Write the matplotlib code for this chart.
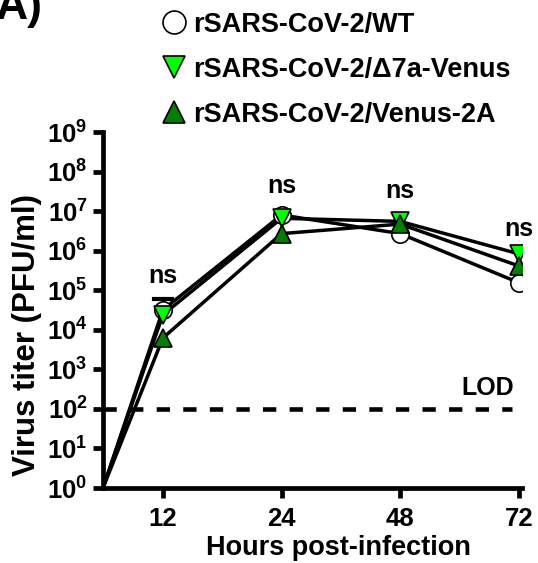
import numpy as np
import matplotlib.pyplot as plt

plt.rcParams['font.family'] = ['Liberation Sans', 'DejaVu Sans']
plt.rcParams['font.weight'] = 'bold'
plt.rcParams['mathtext.fontset'] = 'custom'
plt.rcParams['mathtext.rm'] = 'Liberation Sans:bold'
plt.rcParams['mathtext.bf'] = 'Liberation Sans:bold'
plt.rcParams['mathtext.it'] = 'Liberation Sans:bold:italic'

hours = ["0", "12", "24", "48", "72"]
wt = [1, 3.2e4, 8.0e6, 2.7e6, 1.55e5]
d7a_venus = [1, 2.4e4, 6.6e6, 5.5e6, 8.3e5]
venus_2a = [1, 6.2e3, 2.7e6, 4.7e6, 4.1e5]
wt_err_top = 6.0e4  # upper error bar at 12 h
lod = 1e2
ns_y = [1.5e5, 2.8e7, 2.1e7, 2.3e6]

labels = ["rSARS-CoV-2/WT", "rSARS-CoV-2/\u0394" + "7a-Venus", "rSARS-CoV-2/Venus-2A"]
series = [wt, d7a_venus, venus_2a]
styles = [["o", "white"], ["v", "#00ff00"], ["^", "#008000"]]

fig = plt.figure(figsize=(5.38, 5.63), dpi=100)
ax = fig.add_axes([0.1914, 0.1332, 0.7786, 0.6323])

# category positions: first point sits on the y axis
x = np.arange(len(hours)).astype(float)
x[0] = 0.495

# error bar for WT at 12 h
ax.plot([x[1], x[1]], [wt[1], wt_err_top], color="black", lw=2, zorder=2)
ax.plot([x[1] - 0.075, x[1] + 0.075], [wt_err_top, wt_err_top], color="black", lw=3, zorder=2)

handles = []
for s, st, lab in zip(series, styles, labels):
    ax.plot(x, s, color="black", lw=2.5, zorder=3, solid_capstyle="butt")
    h, = ax.plot(x[1:], s[1:], linestyle="none", marker=st[0], markersize=12.5,
                 markerfacecolor=st[1], markeredgecolor="black", markeredgewidth=1.2,
                 zorder=4, label=lab)
    handles.append(h)

ax.axhline(lod, color="black", lw=3.3, dashes=(2.9, 2.9), xmin=0, xmax=0.976, zorder=1)
ax.text(x[-1] - 0.26, lod * 2.2, "LOD", fontsize=18, fontweight="bold", ha="center", va="baseline")

for xi, yi in zip(x[1:], ns_y):
    ax.text(xi, yi, "ns", fontsize=18, fontweight="bold", ha="center", va="baseline")

ax.set_yscale("log")
ax.set_ylim(1, 1e9)
ax.set_xlim(0.495, 4.025)
ax.set_xticks(x[1:])
ax.set_xticklabels(hours[1:])
ax.set_yticks([10.0 ** k for k in range(10)])
ax.set_yticklabels(["$10^{%d}$" % k for k in range(10)])

ax.spines["top"].set_visible(False)
ax.spines["right"].set_visible(False)
ax.spines["left"].set_linewidth(3.4)
ax.spines["bottom"].set_linewidth(3.4)
ax.tick_params(axis="both", which="major", width=3.4, length=7, labelsize=18.5,
               direction="out", pad=4)
ax.tick_params(axis="x", which="major", pad=7)
ax.tick_params(axis="y", which="minor", width=2.2, length=4)
ax.tick_params(axis="x", which="minor", length=0)

fig.text(338 / 538, 1 - 555 / 563, "Hours post-infection", fontsize=19.5, fontweight="bold",
         ha="center", va="baseline")
fig.text(27 / 538, 1 - 335 / 563, "Virus titer (PFU/ml)", fontsize=22.5, fontweight="bold",
         ha="center", va="center", rotation=90)

fig.legend(handles=handles, loc="upper left", bbox_to_anchor=(0.288, 0.989), frameon=False,
           markerscale=1.32, handlelength=1.0, handletextpad=0.2, labelspacing=0.7,
           borderpad=0.2, borderaxespad=0, prop={"weight": "bold", "size": 19.5})

fig.text(-0.008, 1 - 19 / 563, "A)", fontsize=32, fontweight="bold", ha="left", va="baseline")

plt.savefig("out.png", dpi=100)
